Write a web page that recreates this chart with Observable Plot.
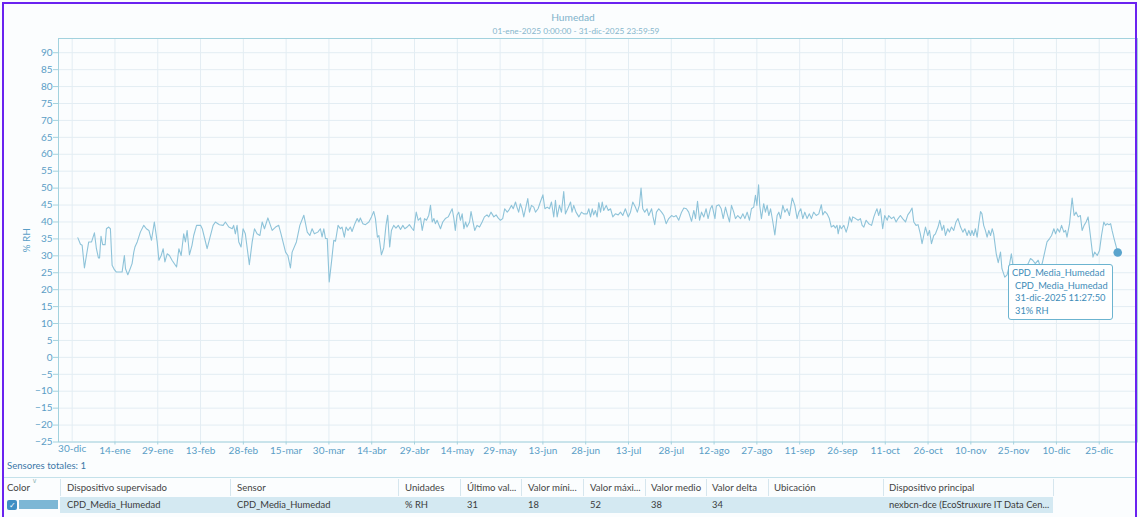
<!DOCTYPE html>
<html><head><meta charset="utf-8">
<script src="https://cdn.jsdelivr.net/npm/d3@7"></script>
<script src="https://cdn.jsdelivr.net/npm/@observablehq/plot@0.6"></script>
<style>
body{margin:0;background:#fff;font-family:Lato,"Noto Sans",sans-serif;}
#wrap{position:relative;width:1140px;height:517px;overflow:hidden;background:#fbfdfe;}
#border{position:absolute;left:2px;top:2px;width:1135px;height:525px;border:2.5px solid #6a22f0;box-sizing:border-box;pointer-events:none;z-index:10;}
.t{position:absolute;white-space:nowrap;line-height:12px;}
#chart{position:absolute;left:0;top:0;}
.hd{font-size:9.6px;color:#444;top:482px;}
.rw{font-size:9.4px;color:#3a3a3a;top:499px;}
.sep{position:absolute;top:479px;width:1px;height:17px;background:#d6e6ee;}
#tip{position:absolute;left:1008px;top:264px;width:105px;height:56px;border:1px solid #6cb4d0;border-radius:3px;background:rgba(255,255,255,0.96);box-sizing:border-box;}
#tip div{position:absolute;left:3px;font-size:9.3px;color:#3d8cb8;white-space:nowrap;line-height:12px;}
</style></head>
<body>
<div id="wrap">
  <div id="chart"></div>
  <div class="t" style="left:473px;width:200px;text-align:center;top:11px;font-size:10.2px;color:#7fb3cb;">Humedad</div>
  <div class="t" style="left:426px;width:300px;text-align:center;top:25px;font-size:8.3px;color:#86b6cc;">01-ene-2025 0:00:00 - 31-dic-2025 23:59:59</div>
  <div id="tip">
    <div style="top:2px;">CPD_Media_Humedad</div>
    <div style="top:15px;left:6px;">CPD_Media_Humedad</div>
    <div style="top:27px;left:6px;">31-dic-2025 11:27:50</div>
    <div style="top:40px;left:6px;">31% RH</div>
  </div>
  <div class="t" style="left:7px;top:460px;font-size:9.6px;color:#3b78a8;">Sensores totales: 1</div>
  <div style="position:absolute;left:3px;top:477px;width:1134px;height:1px;background:#c4e1ea;"></div>
  <div class="t" style="left:32px;top:474px;font-size:7px;color:#9bb;">&#8744;</div>
  <div id="table"></div>
  <div id="border"></div>
</div>
<script>
// ---- data: day offset from 01-ene-2025 and daily humidity (% RH) ----
const dayOffsets = [
 0.0,0.9,1.5,2.3,3.0,3.8,4.8,5.8,6.5,7.2,7.6,8.1,8.7,9.55,10.0,10.8,11.4,12.0,12.8,13.5,15.5,16.3,16.7,17.5,18.2,19.0,19.6,20.0,20.8,21.9,23.1,24.0,24.9,25.8,26.8,27.8,28.4,29.2,29.9,30.5,31.3,32.1,33.0,34.6,35.4,36.2,37.1,37.7,38.3,39.1,40.0,40.6,41.6,43.0,43.6,44.6,45.3,46.2,47.4,48.2,49.6,50.9,51.7,52.9,54.1,54.6,55.2,55.8,56.4,57.2,57.9,58.7,60.1,61.1,61.9,62.8,63.8,64.6,65.4,66.6,68.1,69.3,70.4,71.2,72.8,73.6,74.5,75.1,76.6,77.8,79.2,80.4,81.3,82.1,82.9,84.1,85.0,85.6,86.2,86.8,87.4,
 88.1,88.9,89.7,90.3,91.2,92.0,92.6,93.4,94.0,94.7,95.5,96.1,97.1,97.9,98.5,99.0,99.9,100.8,102.0,102.9,103.7,104.3,105.0,105.5,105.8,106.4,107.2,108.0,108.6,109.3,109.9,110.7,111.5,112.3,113.1,113.9,114.6,115.4,116.2,117.2,117.7,118.6,119.3,120.1,120.7,121.5,122.2,123.0,123.6,124.2,124.8,125.3,125.9,127.1,127.9,128.8,129.8,130.6,131.2,131.8,132.3,132.9,133.5,134.1,134.7,135.3,135.9,136.4,137.3,137.8,138.5,139.1,139.9,140.8,141.7,142.5,143.4,144.0,144.8,145.8,146.6,147.3,148.1,148.9,149.6,150.5,151.0,152.0,152.6,153.4,153.9,154.5,155.1,155.7,156.3,156.9,157.7,158.3,159.0,159.8,160.4,161.3,162.1,163.0,163.7,164.5,165.3,166.0,166.8,167.4,168.0,168.8,169.5,170.3,170.9,171.7,172.7,173.2,173.8,174.6,175.6,176.5,177.3,
 178.5,179.1,179.7,180.3,180.8,181.4,182.0,182.6,183.2,183.8,184.3,185.2,185.9,186.7,187.5,188.4,189.4,190.2,191.0,191.9,192.9,193.7,194.5,195.4,196.1,196.8,197.4,198.0,198.7,199.5,200.1,201.1,201.6,202.2,202.8,203.6,204.6,205.4,206.2,207.1,208.1,208.9,209.7,210.6,211.6,212.4,213.3,214.1,215.1,215.9,216.5,217.2,217.9,218.6,219.4,220.2,220.9,221.7,222.3,223.3,223.8,224.7,225.5,226.2,227.0,227.6,228.4,229.1,229.9,230.5,231.3,232.3,233.1,233.8,234.6,235.4,236.1,236.9,237.5,238.0,238.6,239.0,239.6,240.4,241.0,241.6,242.2,242.8,243.6,244.3,245.1,245.7,246.3,247.1,247.8,248.6,249.4,250.4,251.3,252.1,252.7,253.4,254.1,254.8,255.6,256.4,257.1,257.9,258.8,259.7,260.6,261.1,261.8,262.6,263.4,264.1,264.9,265.5,266.1,266.5,267.1,267.6,268.5,269.3,
 270.0,270.5,271.2,271.6,272.6,273.5,274.3,274.9,275.5,276.3,277.2,278.2,279.0,279.6,280.1,280.7,281.3,282.1,282.8,283.7,284.2,285.2,286.0,286.8,287.5,288.3,289.1,290.1,290.9,291.6,292.4,293.0,293.8,294.5,295.3,295.9,296.5,297.1,297.9,298.5,299.2,300.0,300.6,301.5,302.1,302.9,303.5,304.1,304.9,305.5,306.2,307.0,307.8,308.5,309.4,310.2,310.9,311.7,312.3,312.9,313.4,314.0,314.6,315.2,315.8,316.4,316.9,317.5,318.1,318.7,319.3,319.9,320.5,321.0,321.9,322.6,323.4,323.9,324.9,325.7,326.5,327.2,328.1,328.6,329.6,330.4,331.2,332.1,333.1,333.9,334.7,335.6,336.6,337.4,338.0,338.9,339.7,340.6,341.3,342.1,342.7,343.4,344.1,344.8,345.6,346.2,346.7,347.6,348.5,349.2,349.9,350.6,351.4,352.0,352.7,353.4,354.1,354.9,355.8,356.4,357.3,358.1,358.8,359.6,360.2,360.8,361.4,362.0,362.5,363.2,364.48
];
const humidity = [
 35.3,33.4,33.1,26.4,30.1,34.1,34.1,36.8,32.1,29.4,29.4,35.8,33.3,33.3,38.0,38.5,38.0,27.2,25.9,25.2,25.2,30.1,26.2,24.4,25.9,27.7,31.1,32.6,34.1,37.0,39.0,38.0,37.5,34.6,40.0,34.1,28.7,30.1,32.1,28.2,30.6,30.1,28.7,26.7,32.1,30.1,36.5,34.1,37.5,30.3,33.1,36.0,39.0,39.0,38.0,34.6,32.1,35.1,39.0,40.0,39.2,39.0,40.0,38.5,38.0,39.0,36.5,39.0,34.1,32.6,38.0,36.5,27.4,34.1,38.0,36.5,36.0,40.0,38.0,41.2,37.5,38.5,39.0,36.5,31.1,30.1,26.4,31.1,34.1,39.0,42.0,37.0,36.0,38.0,36.5,37.0,38.0,35.6,38.0,35.1,35.1,
 22.3,28.2,34.6,34.3,39.0,38.0,38.5,35.5,38.5,37.5,38.5,37.2,39.5,41.0,40.0,41.2,39.5,39.2,40.0,41.5,43.1,41.0,35.5,36.0,34.1,30.3,32.3,39.0,42.0,32.6,37.5,39.0,38.2,39.0,37.8,39.0,38.0,38.5,39.2,38.0,37.5,42.9,40.5,41.2,37.5,41.0,40.5,42.0,44.9,40.0,41.0,39.5,40.5,38.0,40.0,41.0,41.5,42.9,43.9,41.0,37.5,42.0,42.9,40.5,42.4,38.0,40.0,38.5,40.0,43.1,40.0,37.5,39.0,38.5,40.0,41.5,42.1,41.5,42.9,41.5,42.1,41.2,40.5,41.0,43.9,42.9,43.4,44.9,43.9,45.9,44.4,42.9,45.4,43.9,41.5,43.9,46.9,42.9,44.9,44.4,42.9,43.9,45.9,48.0,43.9,44.4,43.9,45.9,41.5,46.4,41.5,44.9,42.9,49.0,42.4,43.9,45.9,42.9,44.9,42.9,41.5,42.9,42.4,
 42.4,43.9,41.5,43.9,42.1,43.4,41.5,45.7,42.9,45.9,43.4,44.9,43.4,43.9,41.5,42.4,42.1,42.9,41.9,43.9,41.5,42.9,45.9,44.4,42.9,44.9,50.0,43.9,42.9,43.9,41.9,43.9,41.5,39.2,42.9,43.9,42.9,41.9,39.5,41.0,41.9,41.5,41.9,40.5,42.9,44.1,43.9,42.9,40.2,43.4,41.0,46.1,40.5,42.9,41.5,43.9,41.0,43.9,44.9,41.0,44.7,45.1,43.9,41.0,44.4,42.4,40.0,44.9,42.9,41.0,41.9,41.0,42.4,41.0,42.9,40.5,43.9,44.4,47.9,44.9,51.0,44.9,41.0,45.4,42.9,44.9,41.9,43.9,40.0,36.2,41.9,42.9,41.0,44.9,42.9,43.9,41.9,47.1,44.9,41.0,42.9,43.9,41.0,42.9,41.0,42.4,41.0,42.9,41.9,42.4,45.1,42.1,43.1,42.4,41.0,38.5,39.0,38.2,39.0,36.5,39.0,38.0,39.0,37.0,
 39.0,41.5,40.0,41.5,41.0,40.5,41.0,39.0,38.5,40.5,39.5,39.0,41.5,42.9,43.9,41.9,43.9,38.0,41.9,40.5,41.9,41.0,41.5,40.0,41.0,41.9,41.0,40.0,42.1,42.9,44.1,40.0,39.0,39.2,36.5,33.6,36.0,38.5,36.0,37.5,33.6,36.0,36.5,38.5,40.5,37.5,39.0,36.0,38.0,37.0,38.5,37.5,40.0,41.0,38.5,37.0,38.0,36.0,37.5,36.0,37.5,36.0,38.0,35.5,39.5,43.1,42.4,39.0,37.5,35.5,37.5,36.0,38.0,36.5,30.6,28.0,31.1,26.2,23.7,24.4,27.2,30.6,25.2,23.3,24.2,25.2,27.2,26.2,27.7,29.2,28.7,27.7,28.7,26.7,27.7,31.1,34.1,35.1,36.0,38.0,36.5,38.0,37.0,39.0,37.0,37.5,35.5,39.5,47.1,41.9,42.9,41.5,41.9,37.5,39.0,40.0,41.5,36.0,29.6,31.1,30.1,31.6,36.0,40.0,39.0,39.5,39.2,39.5,37.5,35.1,31.0
];
// x-axis ticks (every 15 days) and their labels
const tickDates = ["2024-12-30","2025-01-14","2025-01-29","2025-02-13","2025-02-28","2025-03-15","2025-03-30","2025-04-14","2025-04-29","2025-05-14","2025-05-29","2025-06-13","2025-06-28","2025-07-13","2025-07-28","2025-08-12","2025-08-27","2025-09-11","2025-09-26","2025-10-11","2025-10-26","2025-11-10","2025-11-25","2025-12-10","2025-12-25"];
const tickLabels = ["30-dic","14-ene","29-ene","13-feb","28-feb","15-mar","30-mar","14-abr","29-abr","14-may","29-may","13-jun","28-jun","13-jul","28-jul","12-ago","27-ago","11-sep","26-sep","11-oct","26-oct","10-nov","25-nov","10-dic","25-dic"];
const yTicks = [-25,-20,-15,-10,-5,0,5,10,15,20,25,30,35,40,45,50,55,60,65,70,75,80,85,90];
// table
const tableHeaders = ["Color","Dispositivo supervisado","Sensor","Unidades","Último val...","Valor míni...","Valor máxi...","Valor medio","Valor delta","Ubicación","Dispositivo principal"];
const tableRow = ["","CPD_Media_Humedad","CPD_Media_Humedad","% RH","31","18","52","38","34","","nexbcn-dce (EcoStruxure IT Data Cen..."];

const t0 = Date.UTC(2025,0,1);
const data = dayOffsets.map((d,i)=>({date:new Date(t0 + d*86400000), value:humidity[i]}));
const ticks = tickDates.map(s=>new Date(s+"T00:00:00Z"));
const labelOf = new Map(ticks.map((t,i)=>[+t, tickLabels[i]]));
const last = data[data.length-1];

const txt = "#5a9ec6";
const chart = Plot.plot({
  width:1140, height:460,
  marginLeft:58, marginRight:3, marginTop:38, marginBottom:18.5,
  style:{background:"transparent", fontFamily:"Lato,'Noto Sans',sans-serif", fontSize:"10px", overflow:"visible"},
  x:{type:"utc", domain:[new Date("2024-12-25T05:00:00Z"), new Date("2026-01-07T10:00:00Z")]},
  y:{domain:[-25, 94.2]},
  marks:[
    Plot.gridY(yTicks, {stroke:"#e3edf3", strokeOpacity:1}),
    Plot.gridX(ticks, {stroke:"#e3edf3", strokeOpacity:1}),
    Plot.frame({stroke:"#a3d2de"}),
    Plot.axisY(yTicks, {tickSize:5, tickPadding:1, stroke:"#a3d2de", fill:txt, label:"% RH", labelAnchor:"center", labelArrow:"none", labelOffset:36}),
    Plot.axisX(ticks.slice(1), {tickSize:3, tickPadding:1.5, stroke:"#a3d2de", fill:txt, tickFormat:d=>labelOf.get(+d), label:null}),
    Plot.text(ticks.slice(0,1), {x:d=>d, text:d=>labelOf.get(+d), frameAnchor:"bottom", dy:10, fill:txt}),
    Plot.line(data, {x:"date", y:"value", stroke:"#8ec3d9", strokeWidth:1.1}),
    Plot.dot([last], {x:"date", y:"value", r:4.3, fill:"#5aa4cd", stroke:"none"})
  ]
});
document.getElementById("chart").appendChild(chart);

// table
const colX = [7,67,237,405,467,528,590,651,712,774,889];
const sepX = [60,230,398,460,521,583,645,706,768,883,1053];
const tb = document.getElementById("table");
let html = '<div style="position:absolute;left:60px;top:497px;width:993px;height:16px;background:#d4e9f2;"></div>';
sepX.forEach(x=>{html += `<div class="sep" style="left:${x}px"></div>`;});
tableHeaders.forEach((h,i)=>{html += `<div class="t hd" style="left:${colX[i]}px">${h}</div>`;});
tableRow.forEach((v,i)=>{ if(v) html += `<div class="t rw" style="left:${colX[i]}px">${v}</div>`;});
html += '<div style="position:absolute;left:7px;top:500px;width:10px;height:10px;border-radius:2px;background:#3f8fc4;color:#fff;font-size:8px;line-height:10px;text-align:center;">&#10003;</div>';
html += '<div style="position:absolute;left:19px;top:500px;width:39px;height:9px;background:#7db7d5;"></div>';
tb.innerHTML = html;
</script>
</body></html>
